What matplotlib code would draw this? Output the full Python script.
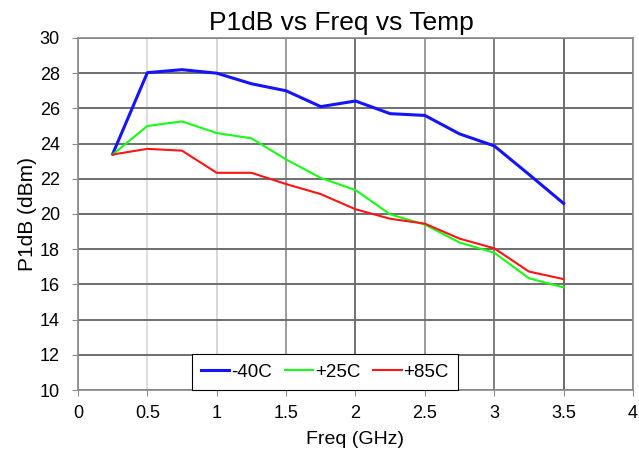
import matplotlib
matplotlib.use("Agg")
import matplotlib.pyplot as plt
import numpy as np

plt.rcParams['font.family'] = ['Liberation Sans', 'DejaVu Sans']

# data
freq = [0.25, 0.5, 0.75, 1.0, 1.25, 1.5, 1.75, 2.0, 2.25, 2.5, 2.75, 3.0, 3.25, 3.5]
p1db_m40 = [23.4, 28.03, 28.2, 28.0, 27.4, 27.0, 26.1, 26.42, 25.7, 25.6, 24.55, 23.87, 22.25, 20.6]
p1db_p25 = [23.38, 25.0, 25.26, 24.6, 24.3, 23.1, 22.05, 21.36, 19.98, 19.4, 18.38, 17.8, 16.35, 15.83]
p1db_p85 = [23.38, 23.7, 23.6, 22.34, 22.34, 21.7, 21.13, 20.27, 19.73, 19.45, 18.6, 18.05, 16.73, 16.3]
labels = ["-40C", "+25C", "+85C"]

fig = plt.figure(figsize=(6.39, 4.61), dpi=100)
ax = fig.add_axes([0.122, 0.154, 0.8686, 0.7636])

ax.plot(freq, p1db_m40, color="#1414ff", lw=2.2, label=labels[0], zorder=3)
ax.plot(freq, p1db_p25, color="#14ff14", lw=1.5, label=labels[1], zorder=3)
ax.plot(freq, p1db_p85, color="#ff1414", lw=1.5, label=labels[2], zorder=3)

ax.set_xlim(0, 4)
ax.set_ylim(10, 30)
ax.set_xticks(np.arange(0, 4.01, 0.5))
ax.set_xticklabels(["0", "0.5", "1", "1.5", "2", "2.5", "3", "3.5", "4"])
ax.set_yticks(np.arange(10, 30.1, 2))

# grid: horizontal lines uniform, vertical ones of varying darkness as in the original
ax.grid(True, axis="y", color="#6e6e6e", lw=1.4)
ax.grid(True, axis="x", lw=1.2)
vcols = ["#7a7a7a", "#d8d8d8", "#d0d0d0", "#8a8a8a", "#5a5a5a", "#8a8a8a", "#6a6a6a", "#505050", "#7a7a7a"]
for gl, c in zip(ax.get_xgridlines(), vcols):
    gl.set_color(c)
ax.set_axisbelow(True)

for s in ax.spines.values():
    s.set_color("#8a8a8a")
    s.set_linewidth(1.2)
ax.tick_params(direction="out", length=4, color="#8a8a8a", labelsize=13)
ax.tick_params(axis="x", pad=7)
ax.tick_params(axis="y", pad=9)

ax.set_title("P1dB vs Freq vs Temp", fontsize=19, pad=6, x=0.475)
ax.set_xlabel("Freq (GHz)", fontsize=14, labelpad=6)
ax.set_ylabel("P1dB (dBm)", fontsize=15, labelpad=2)

leg = ax.legend(loc="lower center", bbox_to_anchor=(0.445, 0.0), ncol=3, fontsize=13.5,
                frameon=True, fancybox=False, framealpha=1, edgecolor="black",
                borderaxespad=0, handlelength=1.5, handletextpad=0.1, columnspacing=0.7,
                borderpad=0.5)
leg.get_frame().set_linewidth(0.8)

plt.savefig("out.png", dpi=100)
